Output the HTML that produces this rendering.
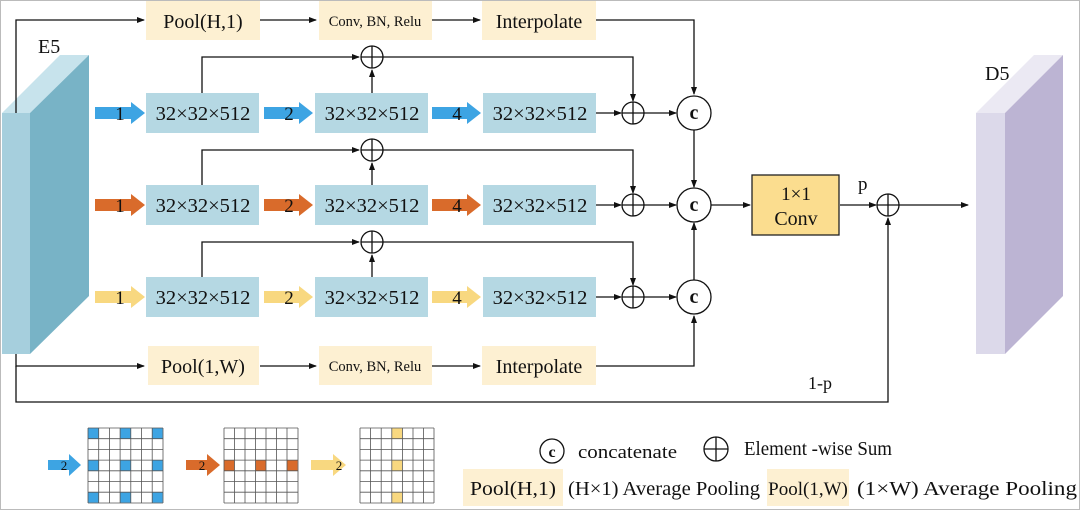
<!DOCTYPE html>
<html><head><meta charset="utf-8"><style>
html,body{margin:0;padding:0;background:#fff}
svg{display:block}
text{font-family:"Liberation Serif",serif;fill:#111}
</style></head><body>
<svg width="1080" height="510" viewBox="0 0 1080 510" xmlns="http://www.w3.org/2000/svg">
<defs>
<marker id="a" markerWidth="8" markerHeight="8" refX="7" refY="4" orient="auto" markerUnits="userSpaceOnUse"><path d="M0,1 L8,4 L0,7 Z" fill="#111"/></marker>
</defs>
<rect x="0.5" y="0.5" width="1079" height="509" fill="#fff" stroke="#bbb"/>
<polygon points="2,113 30,113 89,55 60,55" fill="#c7e3ec"/>
<polygon points="30,113 89,55 89,296 30,354" fill="#78b3c6"/>
<rect x="2" y="113" width="28" height="241" fill="#a6cfdd"/>
<text x="38" y="53" font-size="20">E5</text>
<polygon points="976,113 1005,113 1063,55 1034,55" fill="#ebe9f3"/>
<polygon points="1005,113 1063,55 1063,296 1005,354" fill="#bcb4d3"/>
<rect x="976" y="113" width="29" height="241" fill="#dcd9ea"/>
<text x="985" y="80" font-size="20">D5</text>

<g stroke="#111" stroke-width="1.3" fill="none">
<polyline points="16,113 16,20 144,20" marker-end="url(#a)"/>
<polyline points="16,354 16,366 144,366" marker-end="url(#a)"/>
<polyline points="16,366 16,402 888,402 888,218" marker-end="url(#a)"/>
<line x1="260" y1="20" x2="316" y2="20" marker-end="url(#a)"/>
<line x1="432" y1="20" x2="480" y2="20" marker-end="url(#a)"/>
<polyline points="596,20 694,20 694,94" marker-end="url(#a)"/>
<line x1="260" y1="366" x2="316" y2="366" marker-end="url(#a)"/>
<line x1="432" y1="366" x2="480" y2="366" marker-end="url(#a)"/>
<polyline points="596,366 694,366 694,316" marker-end="url(#a)"/>
</g>

<g stroke="#111" stroke-width="1.3" fill="none">
<polyline points="202,93 202,57 359,57" marker-end="url(#a)"/>
<line x1="372" y1="93" x2="372" y2="70" marker-end="url(#a)"/>
<polyline points="383,57 633,57 633,101" marker-end="url(#a)"/>
<line x1="596" y1="113" x2="621" y2="113" marker-end="url(#a)"/>
<line x1="644" y1="113" x2="676" y2="113" marker-end="url(#a)"/>
<line x1="694" y1="130" x2="694" y2="187" marker-end="url(#a)"/>
<circle cx="372" cy="57" r="11"/><line x1="361" y1="57" x2="383" y2="57"/><line x1="372" y1="46" x2="372" y2="68"/>
<circle cx="633" cy="113" r="11"/><line x1="622" y1="113" x2="644" y2="113"/><line x1="633" y1="102" x2="633" y2="124"/>
<polyline points="202,185 202,150 359,150" marker-end="url(#a)"/>
<line x1="372" y1="185" x2="372" y2="163" marker-end="url(#a)"/>
<polyline points="383,150 633,150 633,193" marker-end="url(#a)"/>
<line x1="596" y1="205" x2="621" y2="205" marker-end="url(#a)"/>
<line x1="644" y1="205" x2="676" y2="205" marker-end="url(#a)"/>
<circle cx="372" cy="150" r="11"/><line x1="361" y1="150" x2="383" y2="150"/><line x1="372" y1="139" x2="372" y2="161"/>
<circle cx="633" cy="205" r="11"/><line x1="622" y1="205" x2="644" y2="205"/><line x1="633" y1="194" x2="633" y2="216"/>
<polyline points="202,277 202,242 359,242" marker-end="url(#a)"/>
<line x1="372" y1="277" x2="372" y2="255" marker-end="url(#a)"/>
<polyline points="383,242 633,242 633,285" marker-end="url(#a)"/>
<line x1="596" y1="297" x2="621" y2="297" marker-end="url(#a)"/>
<line x1="644" y1="297" x2="676" y2="297" marker-end="url(#a)"/>
<line x1="694" y1="280" x2="694" y2="223" marker-end="url(#a)"/>
<circle cx="372" cy="242" r="11"/><line x1="361" y1="242" x2="383" y2="242"/><line x1="372" y1="231" x2="372" y2="253"/>
<circle cx="633" cy="297" r="11"/><line x1="622" y1="297" x2="644" y2="297"/><line x1="633" y1="286" x2="633" y2="308"/>
<circle cx="694" cy="113" r="17" fill="#fff"/>
<circle cx="694" cy="205" r="17" fill="#fff"/>
<circle cx="694" cy="297" r="17" fill="#fff"/>
<line x1="711" y1="205" x2="750" y2="205" marker-end="url(#a)"/>
<line x1="840" y1="205" x2="876" y2="205" marker-end="url(#a)"/>
<circle cx="888" cy="205" r="11"/><line x1="877" y1="205" x2="899" y2="205"/><line x1="888" y1="194" x2="888" y2="216"/>
<line x1="899" y1="205" x2="968" y2="205" marker-end="url(#a)"/>
</g>
<g font-size="20" font-weight="bold" text-anchor="middle">
<text x="694" y="119">c</text><text x="694" y="211">c</text><text x="694" y="303">c</text>
</g>

<g fill="#fdf0d2">
<rect x="146" y="1" width="114" height="39"/>
<rect x="319" y="1" width="113" height="39"/>
<rect x="482" y="1" width="114" height="39"/>
<rect x="148" y="346" width="111" height="39"/>
<rect x="319" y="346" width="113" height="39"/>
<rect x="482" y="346" width="114" height="39"/>
</g>
<g font-size="20" text-anchor="middle">
<text x="203" y="28">Pool(H,1)</text>
<text x="539" y="28">Interpolate</text>
<text x="203" y="373">Pool(1,W)</text>
<text x="539" y="373">Interpolate</text>
</g>
<g font-size="14.5" text-anchor="middle">
<text x="375" y="26">Conv, BN, Relu</text>
<text x="375" y="371">Conv, BN, Relu</text>
</g>

<g fill="#b5d8e3">
<rect x="146" y="93" width="113" height="40"/><rect x="315" y="93" width="113" height="40"/><rect x="483" y="93" width="113" height="40"/>
<rect x="146" y="185" width="113" height="40"/><rect x="315" y="185" width="113" height="40"/><rect x="483" y="185" width="113" height="40"/>
<rect x="146" y="277" width="113" height="40"/><rect x="315" y="277" width="113" height="40"/><rect x="483" y="277" width="113" height="40"/>
</g>
<g font-size="20.5" text-anchor="middle">
<text x="203" y="120">32×32×512</text><text x="372" y="120">32×32×512</text><text x="540" y="120">32×32×512</text>
<text x="203" y="212">32×32×512</text><text x="372" y="212">32×32×512</text><text x="540" y="212">32×32×512</text>
<text x="203" y="304">32×32×512</text><text x="372" y="304">32×32×512</text><text x="540" y="304">32×32×512</text>
</g>

<g>
<polygon fill="#3da4e3" points="95,107 131,107 131,102 145,113 131,124 131,119 95,119"/>
<polygon fill="#3da4e3" points="264,107 299,107 299,102 313,113 299,124 299,119 264,119"/>
<polygon fill="#3da4e3" points="432,107 467,107 467,102 481,113 467,124 467,119 432,119"/>
<polygon fill="#d96b2b" points="95,199 131,199 131,194 145,205 131,216 131,211 95,211"/>
<polygon fill="#d96b2b" points="264,199 299,199 299,194 313,205 299,216 299,211 264,211"/>
<polygon fill="#d96b2b" points="432,199 467,199 467,194 481,205 467,216 467,211 432,211"/>
<polygon fill="#f8d880" points="95,291 131,291 131,286 145,297 131,308 131,303 95,303"/>
<polygon fill="#f8d880" points="264,291 299,291 299,286 313,297 299,308 299,303 264,303"/>
<polygon fill="#f8d880" points="432,291 467,291 467,286 481,297 467,308 467,303 432,303"/>
</g>
<g font-size="19" text-anchor="middle">
<text x="120" y="120">1</text><text x="289" y="120">2</text><text x="457" y="120">4</text>
<text x="120" y="212">1</text><text x="289" y="212">2</text><text x="457" y="212">4</text>
<text x="120" y="304">1</text><text x="289" y="304">2</text><text x="457" y="304">4</text>
</g>

<rect x="752" y="175" width="87" height="60" fill="#fbdd8f" stroke="#222" stroke-width="1.3"/>
<text x="796" y="200" font-size="19" text-anchor="middle">1×1</text>
<text x="796" y="225" font-size="20" text-anchor="middle">Conv</text>
<text x="858" y="190" font-size="19">p</text>
<text x="808" y="389" font-size="18">1-p</text>

<g>
<rect x="88" y="428" width="10.7" height="10.7" fill="#3da4e3"/><rect x="120" y="428" width="10.7" height="10.7" fill="#3da4e3"/><rect x="152" y="428" width="10.7" height="10.7" fill="#3da4e3"/>
<rect x="88" y="460" width="10.7" height="10.7" fill="#3da4e3"/><rect x="120" y="460" width="10.7" height="10.7" fill="#3da4e3"/><rect x="152" y="460" width="10.7" height="10.7" fill="#3da4e3"/>
<rect x="88" y="492" width="10.7" height="10.7" fill="#3da4e3"/><rect x="120" y="492" width="10.7" height="10.7" fill="#3da4e3"/><rect x="152" y="492" width="10.7" height="10.7" fill="#3da4e3"/>
<rect x="224" y="460" width="10.5" height="10.7" fill="#d96b2b"/><rect x="255.5" y="460" width="10.5" height="10.7" fill="#d96b2b"/><rect x="287" y="460" width="10.5" height="10.7" fill="#d96b2b"/>
<rect x="392" y="428" width="10.6" height="10.7" fill="#f8d880"/><rect x="392" y="460" width="10.6" height="10.7" fill="#f8d880"/><rect x="392" y="492" width="10.6" height="10.7" fill="#f8d880"/>
</g>
<g stroke="#555" stroke-width="0.8" fill="none">
<path d="M88,428h75M88,438.7h75M88,449.4h75M88,460.1h75M88,470.8h75M88,481.5h75M88,492.2h75M88,503h75M88,428v75M98.7,428v75M109.4,428v75M120.1,428v75M130.8,428v75M141.5,428v75M152.2,428v75M163,428v75"/>
<path d="M224,428h74M224,438.7h74M224,449.4h74M224,460.1h74M224,470.8h74M224,481.5h74M224,492.2h74M224,503h74M224,428v75M234.5,428v75M245,428v75M255.5,428v75M266,428v75M276.5,428v75M287,428v75M298,428v75"/>
<path d="M360,428h74M360,438.7h74M360,449.4h74M360,460.1h74M360,470.8h74M360,481.5h74M360,492.2h74M360,503h74M360,428v75M370.6,428v75M381.2,428v75M391.8,428v75M402.4,428v75M413,428v75M423.6,428v75M434,428v75"/>
</g>
<polygon fill="#3da4e3" points="48,460 69,460 69,454 81,465 69,476 69,470 48,470"/>
<polygon fill="#d96b2b" points="186,460 207,460 207,454 220,465 207,476 207,470 186,470"/>
<polygon fill="#f8d880" points="311,460 333,460 333,454 346,465 333,476 333,470 311,470"/>
<g font-size="13" text-anchor="middle"><text x="64" y="470">2</text><text x="202" y="470">2</text><text x="339" y="470">2</text></g>

<circle cx="552" cy="451" r="12" fill="#fff" stroke="#111" stroke-width="1.3"/>
<text x="552" y="457" font-size="16" font-weight="bold" text-anchor="middle">c</text>
<text x="578" y="458" font-size="19" textLength="99" lengthAdjust="spacingAndGlyphs">concatenate</text>
<circle cx="716" cy="449" r="12" fill="none" stroke="#111" stroke-width="1.3"/>
<line x1="704" y1="449" x2="728" y2="449" stroke="#111" stroke-width="1.3"/><line x1="716" y1="437" x2="716" y2="461" stroke="#111" stroke-width="1.3"/>
<text x="744" y="455" font-size="19.5" textLength="148" lengthAdjust="spacingAndGlyphs">Element -wise Sum</text>
<rect x="463" y="469" width="100" height="37" fill="#fdf0d2"/>
<text x="470" y="495" font-size="20" textLength="86" lengthAdjust="spacingAndGlyphs">Pool(H,1)</text>
<text x="568" y="495" font-size="20.5" textLength="192" lengthAdjust="spacingAndGlyphs">(H×1) Average Pooling</text>
<rect x="767" y="469" width="82" height="37" fill="#fdf0d2"/>
<text x="808" y="495" font-size="19" text-anchor="middle">Pool(1,W)</text>
<text x="857" y="495" font-size="20.5" textLength="220" lengthAdjust="spacingAndGlyphs">(1×W) Average Pooling</text>
</svg>
</body></html>
